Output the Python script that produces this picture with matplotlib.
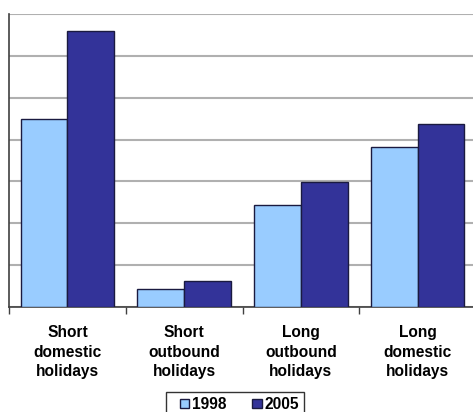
import matplotlib
matplotlib.use("Agg")
import matplotlib.pyplot as plt
import numpy as np
from matplotlib.patches import Patch, Rectangle
from matplotlib.legend_handler import HandlerPatch

categories = ["Short\ndomestic\nholidays", "Short\noutbound\nholidays",
              "Long\noutbound\nholidays", "Long\ndomestic\nholidays"]
series_names = ["1998", "2005"]
values_1998 = [4.5, 0.43, 2.43, 3.82]
values_2005 = [6.6, 0.62, 2.98, 4.37]

light = "#99ccff"
dark = "#333399"

plt.rcParams['font.family'] = ['Liberation Sans', 'DejaVu Sans']

fig = plt.figure(figsize=(4.73, 4.12), dpi=100)
W, H = 473, 412
ax = fig.add_axes([9 / W, (H - 307) / H, 467 / W, 293 / H])

x = np.arange(len(categories))
bw = 0.4
ax.bar(x - bw / 2, values_1998, bw, color=light, edgecolor="#1a1a40", linewidth=1.0, zorder=3)
ax.bar(x + bw / 2, values_2005, bw, color=dark, edgecolor="#1a1a40", linewidth=1.0, zorder=3)

ax.set_xlim(-0.5, 3.5)
ax.set_ylim(0, 7)
ax.set_yticks(np.arange(0, 8, 1))
ax.yaxis.grid(True, color="#b0b0b0", linewidth=1.5, zorder=0)
ax.tick_params(axis='y', length=0, labelleft=False)

ax.set_xticks(x)
ax.set_xticklabels(categories, fontsize=11.2, fontweight='bold', linespacing=1.38)
ax.tick_params(axis='x', which='major', length=0, pad=13)
ax.set_xticks(np.arange(-0.5, 4.0, 1.0), minor=True)
ax.tick_params(axis='x', which='minor', length=5, width=1, color="#404040", direction='out')

for s in ['top', 'right']:
    ax.spines[s].set_visible(False)
for s in ['left', 'bottom']:
    ax.spines[s].set_color("#404040")
    ax.spines[s].set_linewidth(1.2)


def small_square(legend, orig_handle, xdescent, ydescent, width, height, fontsize):
    s = 0.6 * fontsize
    return Rectangle((width - s - xdescent, -ydescent + (height - s) / 2), s, s)


handles = [Patch(facecolor=light, edgecolor="#1a1a40", label=series_names[0]),
           Patch(facecolor=dark, edgecolor="#1a1a40", label=series_names[1])]
leg = fig.legend(handles=handles, loc='upper center', bbox_to_anchor=(235 / W, (H - 392) / H),
                 ncol=2, frameon=True, fancybox=False,
                 prop={'weight': 'bold', 'size': 11.2},
                 handler_map={Patch: HandlerPatch(patch_func=small_square)},
                 handlelength=1.18, handletextpad=0.2, columnspacing=1.07,
                 borderpad=0.3, borderaxespad=0)
leg.get_frame().set_edgecolor("black")
leg.get_frame().set_linewidth(1.0)

fig.savefig("out.png", dpi=100)
